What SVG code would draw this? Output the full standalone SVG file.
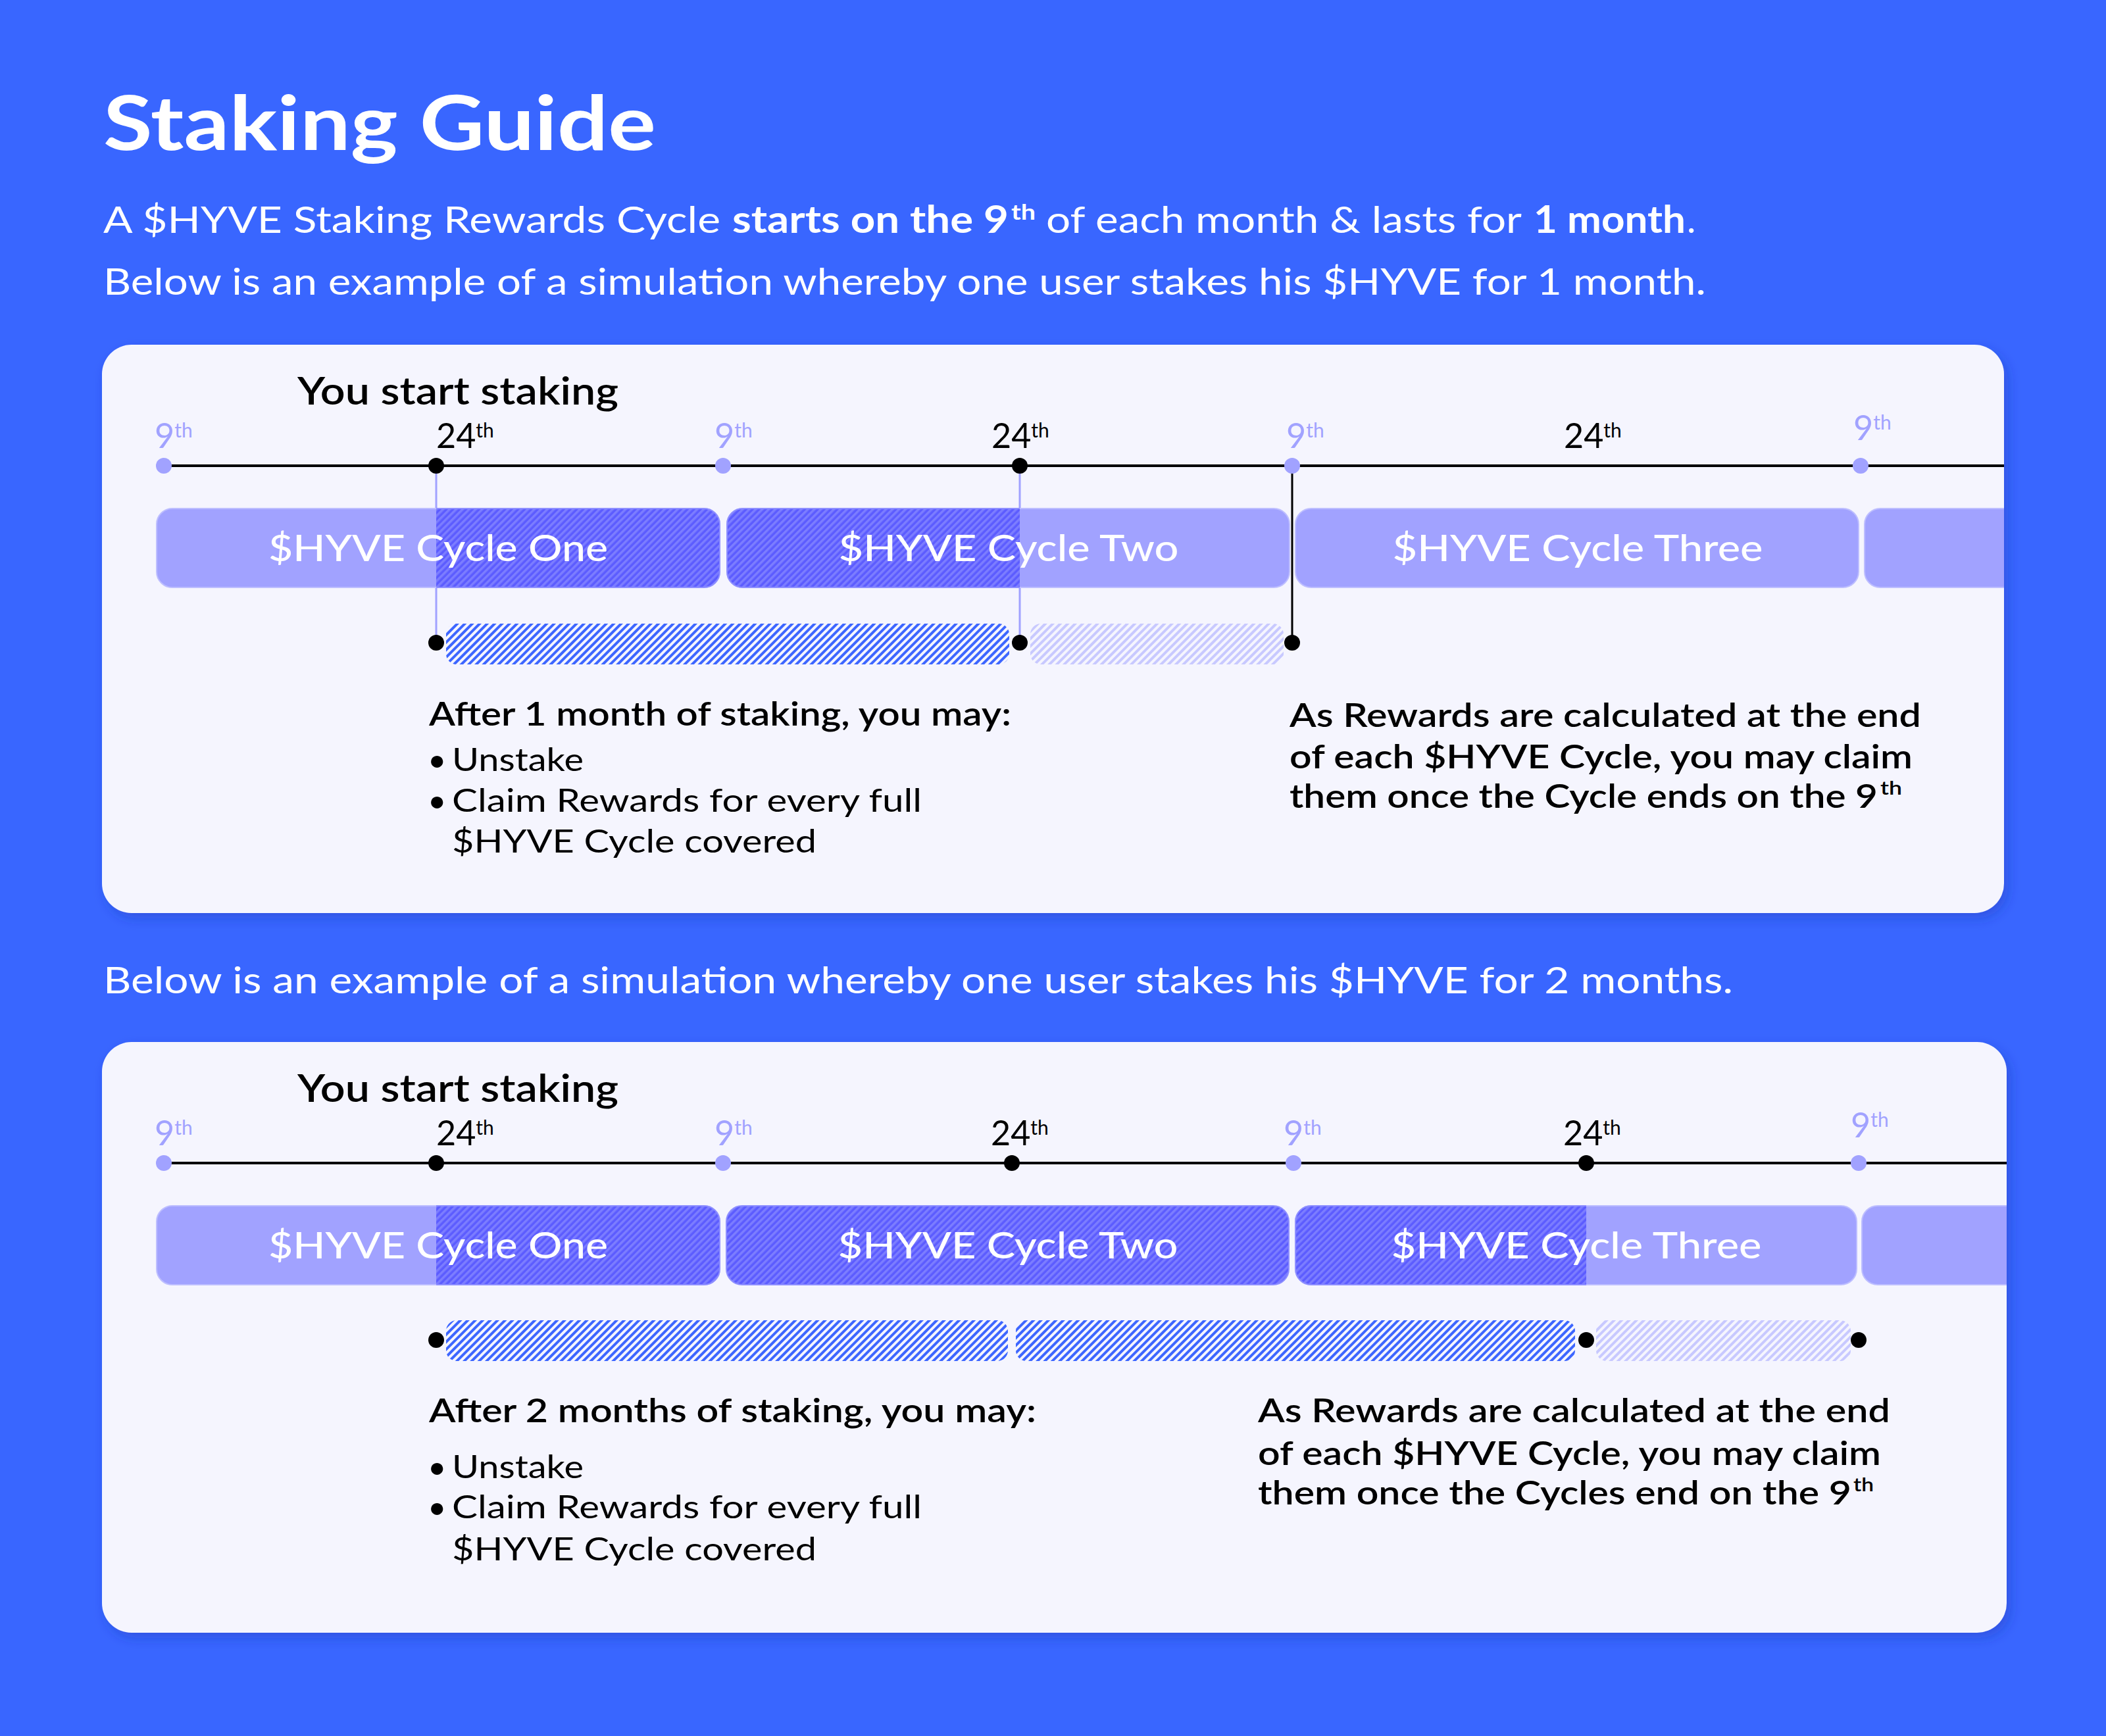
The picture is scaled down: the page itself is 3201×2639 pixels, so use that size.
<svg xmlns="http://www.w3.org/2000/svg" width="3201" height="2639" viewBox="0 0 3201 2639">
<defs>
<style>
.t{font-family:Lato,'Liberation Sans',sans-serif}
.w{fill:#ffffff}
.k{fill:#000000}
.lav{fill:#A1A2FF}
.date{font-size:52px;font-weight:400}
.sup{font-size:30px}
.cyc{font-size:56px;font-weight:500;fill:#ffffff}
.body{font-size:49px;font-weight:400;fill:#000}
.semi{font-size:49px;font-weight:600;fill:#000}
.bar{fill:#A1A2FF;stroke:#BDBEFF;stroke-width:2}
.hbar{fill:url(#hatchDark);stroke:#8E8FFF;stroke-width:2}
.vl{stroke-width:3;fill:none}
.tl{stroke:#000;stroke-width:4}
</style>
<pattern id="hatchDark" patternUnits="userSpaceOnUse" width="7" height="7" patternTransform="rotate(45)">
<rect width="7" height="7" fill="#5C5CFF"/>
<rect width="3.5" height="7" fill="#7C7DFF"/>
</pattern>
<pattern id="hatchBlue" patternUnits="userSpaceOnUse" width="8" height="8" patternTransform="rotate(45)">
<rect width="4" height="8" fill="#3D66FF"/>
</pattern>
<pattern id="hatchFaint" patternUnits="userSpaceOnUse" width="8" height="8" patternTransform="rotate(45)">
<rect width="4" height="8" fill="#C8C9FF"/>
</pattern>
<filter id="shadow" x="-5%" y="-5%" width="110%" height="115%">
<feDropShadow dx="6" dy="8" stdDeviation="9" flood-color="#1A36B0" flood-opacity="0.35"/>
</filter>
<clipPath id="p1clip"><rect x="155" y="524" width="2891" height="864" rx="45"/></clipPath>
<clipPath id="p2clip"><rect x="155" y="1584" width="2895" height="898" rx="45"/></clipPath>
<clipPath id="c1a"><rect x="663" y="760" width="440" height="150"/></clipPath>
<clipPath id="c1b"><rect x="1100" y="760" width="450" height="150"/></clipPath>
<clipPath id="c2a"><rect x="663" y="1820" width="440" height="150"/></clipPath>
<clipPath id="c2c"><rect x="1960" y="1820" width="451" height="150"/></clipPath>
</defs>

<rect id="background" x="0" y="0" width="3201" height="2639" fill="#3966FF"/>

<g id="header" class="t">
<text x="157" y="228" class="w" font-size="114" font-weight="700" textLength="840" lengthAdjust="spacingAndGlyphs">Staking Guide</text>
<text x="157" y="354" class="w" font-size="57" font-weight="400" textLength="938" lengthAdjust="spacingAndGlyphs">A $HYVE Staking Rewards Cycle</text>
<text x="1113" y="354" class="w" font-size="57" font-weight="700" textLength="420" lengthAdjust="spacingAndGlyphs">starts on the 9</text>
<text x="1537" y="334" class="w" font-size="32" font-weight="700" textLength="37" lengthAdjust="spacingAndGlyphs">th</text>
<text x="1590" y="354" class="w" font-size="57" font-weight="400" textLength="723" lengthAdjust="spacingAndGlyphs">of each month &amp; lasts for</text>
<text x="2331" y="354" class="w" font-size="57" font-weight="700" textLength="231" lengthAdjust="spacingAndGlyphs">1 month</text>
<text x="2564" y="354" class="w" font-size="57" font-weight="400">.</text>
<text x="157" y="448" class="w" font-size="57" font-weight="400" textLength="2436" lengthAdjust="spacingAndGlyphs">Below is an example of a simulation whereby one user stakes his $HYVE for 1 month.</text>
</g>

<!-- PANEL 1 -->
<g id="panel1">
<rect x="155" y="524" width="2891" height="864" rx="45" fill="#F5F5FE" filter="url(#shadow)"/>
<text class="t" x="452" y="615" font-size="58" font-weight="600" fill="#000" textLength="488" lengthAdjust="spacingAndGlyphs">You start staking</text>
<line class="tl" x1="249" y1="708" x2="3046" y2="708"/>
</g>

<g id="panel1-dates" class="t date">
<text x="235" y="681" class="lav">9<tspan class="sup" dy="-16">th</tspan></text>
<text x="663" y="681" class="k">24<tspan class="sup" dy="-16">th</tspan></text>
<text x="1086" y="681" class="lav">9<tspan class="sup" dy="-16">th</tspan></text>
<text x="1507" y="681" class="k">24<tspan class="sup" dy="-16">th</tspan></text>
<text x="1955" y="681" class="lav">9<tspan class="sup" dy="-16">th</tspan></text>
<text x="2377" y="681" class="k">24<tspan class="sup" dy="-16">th</tspan></text>
<text x="2817" y="669" class="lav">9<tspan class="sup" dy="-16">th</tspan></text>
</g>

<g id="connectors">
<line class="vl" stroke="#A1A2FF" x1="663" y1="708" x2="663" y2="977"/>
<line class="vl" stroke="#A1A2FF" x1="1550" y1="708" x2="1550" y2="977"/>
<line class="vl" stroke="#000" x1="1964" y1="708" x2="1964" y2="977"/>
<line class="vl" stroke="#A1A2FF" x1="663" y1="1768" x2="663" y2="2037"/>
<line class="vl" stroke="#000" x1="2411" y1="1768" x2="2411" y2="2037"/>
<line class="vl" stroke="#000" x1="2825" y1="1768" x2="2825" y2="2037"/>
</g>

<g id="p1-cycle-one">
<rect class="bar" x="238" y="773" width="856" height="120" rx="24"/>
<rect class="hbar" x="238" y="773" width="856" height="120" rx="24" clip-path="url(#c1a)"/>
<text class="t cyc" x="666" y="853" text-anchor="middle" textLength="516" lengthAdjust="spacingAndGlyphs">$HYVE Cycle One</text>
</g>
<g id="p1-cycle-two">
<rect class="bar" x="1105" y="773" width="855" height="120" rx="24"/>
<rect class="hbar" x="1105" y="773" width="855" height="120" rx="24" clip-path="url(#c1b)"/>
<text class="t cyc" x="1533" y="853" text-anchor="middle" textLength="517" lengthAdjust="spacingAndGlyphs">$HYVE Cycle Two</text>
</g>
<g id="p1-cycle-three">
<rect class="bar" x="1969" y="773" width="856" height="120" rx="24"/>
<text class="t cyc" x="2398" y="853" text-anchor="middle" textLength="563" lengthAdjust="spacingAndGlyphs">$HYVE Cycle Three</text>
</g>
<g id="p1-cycle-four" clip-path="url(#p1clip)">
<rect class="bar" x="2834" y="773" width="400" height="120" rx="24"/>
</g>

<g id="p1-staked-period">
<rect x="678" y="948" width="856" height="62" rx="16" fill="url(#hatchBlue)"/>
<rect x="1566" y="948" width="385" height="62" rx="16" fill="url(#hatchFaint)"/>
</g>

<g id="p1-dots">
<circle cx="249" cy="708" r="12" fill="#A1A2FF"/>
<circle cx="663" cy="708" r="12" fill="#000"/>
<circle cx="1099" cy="708" r="12" fill="#A1A2FF"/>
<circle cx="1550" cy="708" r="12" fill="#000"/>
<circle cx="1964" cy="708" r="12" fill="#A1A2FF"/>
<circle cx="2828" cy="708" r="12" fill="#A1A2FF"/>
<circle cx="663" cy="977" r="12" fill="#000"/>
<circle cx="1550" cy="977" r="12" fill="#000"/>
<circle cx="1964" cy="977" r="12" fill="#000"/>
</g>

<g id="p1-after" class="t">
<text x="652" y="1103" class="semi" textLength="885" lengthAdjust="spacingAndGlyphs">After 1 month of staking, you may:</text>
<text x="650" y="1172" class="body">•</text>
<text x="687" y="1172" class="body" textLength="200" lengthAdjust="spacingAndGlyphs">Unstake</text>
<text x="650" y="1234" class="body">•</text>
<text x="687" y="1234" class="body" textLength="714" lengthAdjust="spacingAndGlyphs">Claim Rewards for every full</text>
<text x="687" y="1296" class="body" textLength="554" lengthAdjust="spacingAndGlyphs">$HYVE Cycle covered</text>
</g>

<g id="p1-rewards" class="t">
<text x="1960" y="1105" class="semi" textLength="960" lengthAdjust="spacingAndGlyphs">As Rewards are calculated at the end</text>
<text x="1960" y="1168" class="semi" textLength="947" lengthAdjust="spacingAndGlyphs">of each $HYVE Cycle, you may claim</text>
<text x="1960" y="1228" class="semi" textLength="894" lengthAdjust="spacingAndGlyphs">them once the Cycle ends on the 9</text>
<text x="2858" y="1208" font-size="28" font-weight="600" fill="#000" textLength="33" lengthAdjust="spacingAndGlyphs">th</text>
</g>

<text id="mid-caption" class="t w" x="157" y="1510" font-size="57" font-weight="400" textLength="2477" lengthAdjust="spacingAndGlyphs">Below is an example of a simulation whereby one user stakes his $HYVE for 2 months.</text>

<!-- PANEL 2 -->
<g id="panel2">
<rect x="155" y="1584" width="2895" height="898" rx="45" fill="#F5F5FE" filter="url(#shadow)"/>
<text class="t" x="452" y="1675" font-size="58" font-weight="600" fill="#000" textLength="488" lengthAdjust="spacingAndGlyphs">You start staking</text>
<line class="tl" x1="249" y1="1768" x2="3050" y2="1768"/>
</g>

<g id="panel2-dates" class="t date">
<text x="235" y="1741" class="lav">9<tspan class="sup" dy="-16">th</tspan></text>
<text x="663" y="1741" class="k">24<tspan class="sup" dy="-16">th</tspan></text>
<text x="1086" y="1741" class="lav">9<tspan class="sup" dy="-16">th</tspan></text>
<text x="1506" y="1741" class="k">24<tspan class="sup" dy="-16">th</tspan></text>
<text x="1951" y="1741" class="lav">9<tspan class="sup" dy="-16">th</tspan></text>
<text x="2376" y="1741" class="k">24<tspan class="sup" dy="-16">th</tspan></text>
<text x="2813" y="1729" class="lav">9<tspan class="sup" dy="-16">th</tspan></text>
</g>

<g id="p2-cycle-one">
<rect class="bar" x="238" y="1833" width="856" height="120" rx="24"/>
<rect class="hbar" x="238" y="1833" width="856" height="120" rx="24" clip-path="url(#c2a)"/>
<text class="t cyc" x="666" y="1913" text-anchor="middle" textLength="516" lengthAdjust="spacingAndGlyphs">$HYVE Cycle One</text>
</g>
<g id="p2-cycle-two">
<rect class="hbar" x="1104" y="1833" width="855" height="120" rx="24"/>
<text class="t cyc" x="1532" y="1913" text-anchor="middle" textLength="517" lengthAdjust="spacingAndGlyphs">$HYVE Cycle Two</text>
</g>
<g id="p2-cycle-three">
<rect class="bar" x="1969" y="1833" width="853" height="120" rx="24"/>
<rect class="hbar" x="1969" y="1833" width="853" height="120" rx="24" clip-path="url(#c2c)"/>
<text class="t cyc" x="2396" y="1913" text-anchor="middle" textLength="563" lengthAdjust="spacingAndGlyphs">$HYVE Cycle Three</text>
</g>
<g id="p2-cycle-four" clip-path="url(#p2clip)">
<rect class="bar" x="2830" y="1833" width="400" height="120" rx="24"/>
</g>

<g id="p2-staked-period">
<rect x="678" y="2007" width="854" height="62" rx="16" fill="url(#hatchBlue)"/>
<rect x="1544" y="2007" width="850" height="62" rx="16" fill="url(#hatchBlue)"/>
<rect x="2426" y="2007" width="387" height="62" rx="16" fill="url(#hatchFaint)"/>
</g>

<g id="p2-dots">
<circle cx="249" cy="1768" r="12" fill="#A1A2FF"/>
<circle cx="663" cy="1768" r="12" fill="#000"/>
<circle cx="1099" cy="1768" r="12" fill="#A1A2FF"/>
<circle cx="1538" cy="1768" r="12" fill="#000"/>
<circle cx="1966" cy="1768" r="12" fill="#A1A2FF"/>
<circle cx="2411" cy="1768" r="12" fill="#000"/>
<circle cx="2825" cy="1768" r="12" fill="#A1A2FF"/>
<circle cx="663" cy="2037" r="12" fill="#000"/>
<circle cx="2411" cy="2037" r="12" fill="#000"/>
<circle cx="2825" cy="2037" r="12" fill="#000"/>
</g>

<g id="p2-after" class="t">
<text x="652" y="2162" class="semi" textLength="923" lengthAdjust="spacingAndGlyphs">After 2 months of staking, you may:</text>
<text x="650" y="2247" class="body">•</text>
<text x="687" y="2247" class="body" textLength="200" lengthAdjust="spacingAndGlyphs">Unstake</text>
<text x="650" y="2308" class="body">•</text>
<text x="687" y="2308" class="body" textLength="714" lengthAdjust="spacingAndGlyphs">Claim Rewards for every full</text>
<text x="687" y="2372" class="body" textLength="554" lengthAdjust="spacingAndGlyphs">$HYVE Cycle covered</text>
</g>

<g id="p2-rewards" class="t">
<text x="1912" y="2162" class="semi" textLength="961" lengthAdjust="spacingAndGlyphs">As Rewards are calculated at the end</text>
<text x="1912" y="2227" class="semi" textLength="947" lengthAdjust="spacingAndGlyphs">of each $HYVE Cycle, you may claim</text>
<text x="1912" y="2287" class="semi" textLength="902" lengthAdjust="spacingAndGlyphs">them once the Cycles end on the 9</text>
<text x="2817" y="2267" font-size="28" font-weight="600" fill="#000" textLength="31" lengthAdjust="spacingAndGlyphs">th</text>
</g>
</svg>
